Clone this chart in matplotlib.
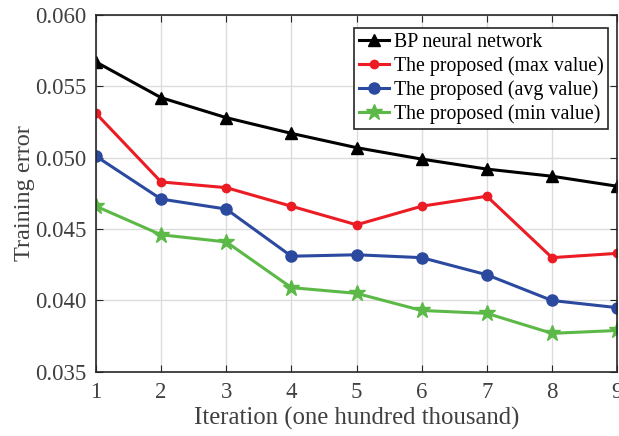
import matplotlib
matplotlib.use('Agg')
import matplotlib.pyplot as plt

iterations = [1, 2, 3, 4, 5, 6, 7, 8, 9]
bp_err = [0.0567, 0.0542, 0.0528, 0.0517, 0.0507, 0.0499, 0.0492, 0.0487, 0.0480]
max_err = [0.0531, 0.0483, 0.0479, 0.0466, 0.0453, 0.0466, 0.0473, 0.0430, 0.0433]
avg_err = [0.0501, 0.0471, 0.0464, 0.0431, 0.0432, 0.0430, 0.0418, 0.0400, 0.0395]
min_err = [0.0466, 0.0446, 0.0441, 0.0409, 0.0405, 0.0393, 0.0391, 0.0377, 0.0379]
yticks = [0.035, 0.040, 0.045, 0.050, 0.055, 0.060]
ylabels = ['0.035', '0.040', '0.045', '0.050', '0.055', '0.060']

plt.rcParams['font.family'] = ['Liberation Serif', 'DejaVu Serif']

fig = plt.figure(figsize=(6.19, 4.36), dpi=100)
ax = fig.add_axes([0.155, 0.147, 0.842, 0.819])

ax.plot(iterations, bp_err, color='black', lw=2.2, marker='^', ms=9, label='BP neural network')
ax.plot(iterations, max_err, color='#ec1c24', lw=2.2, marker='o', ms=6, label='The proposed (max value)')
ax.plot(iterations, avg_err, color='#2b4a9f', lw=2.2, marker='o', ms=8, label='The proposed (avg value)')
ax.plot(iterations, min_err, color='#5cb947', lw=2.2, marker='*', ms=12, label='The proposed (min value)')

ax.set_xlim(1, 9)
ax.set_ylim(0.035, 0.060)
ax.set_xticks(iterations)
ax.set_yticks(yticks)
ax.set_yticklabels(ylabels)
ax.grid(True, color='#dcdcdc', lw=1)
ax.set_axisbelow(True)
ax.tick_params(direction='in', top=True, right=True, labelsize=16.5, colors='#262626',
               labelcolor='#404040', length=5, pad=7)
for s in ax.spines.values():
    s.set_color('#262626')
    s.set_linewidth(1.2)

ax.set_xlabel('Iteration (one hundred thousand)', fontsize=17.8, color='#404040', labelpad=3)
ax.set_ylabel('Training error', fontsize=17.5, color='#404040', labelpad=0)

leg = ax.legend(loc='upper right', bbox_to_anchor=(0.983, 0.964), fontsize=14.3, fancybox=False,
                framealpha=1, edgecolor='#262626', handlelength=1.5, handletextpad=0.25,
                borderpad=0.25, labelspacing=0.22, borderaxespad=0)
leg.get_frame().set_linewidth(1.2)

fig.savefig('out.png', dpi=100)
